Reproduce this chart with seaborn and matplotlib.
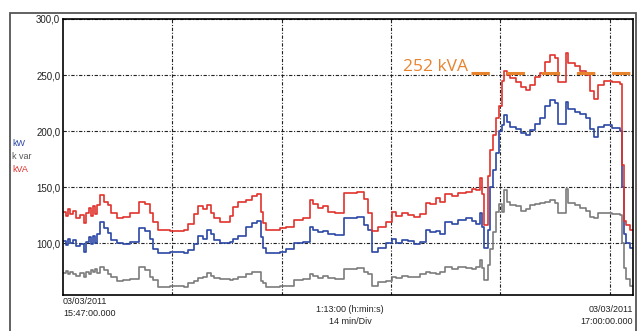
import numpy as np
import pandas as pd
import seaborn as sns
import matplotlib.pyplot as plt
from matplotlib.patches import Rectangle

sns.set_style('white')
plt.rcParams['font.family'] = ['Liberation Sans', 'DejaVu Sans']

# tempo em minutos desde 15:47:00
minutos = [0.0, 0.4, 0.6, 0.9, 1.3, 1.7, 2.2, 2.7, 2.9, 3.3, 3.6, 3.8, 4.1, 4.4,
           4.7, 5.2, 5.8, 6.1, 6.9, 7.7, 8.6, 9.7, 10.5, 11.1, 11.5, 12.2, 13.7,
           15.5, 16.0, 16.8, 17.3, 17.9, 18.4, 19.0, 19.3, 20.1, 21.4, 21.8, 22.4,
           23.4, 24.2, 24.8, 25.4, 25.6, 26.0, 27.8, 28.6, 29.6, 30.7, 31.6, 32.0,
           32.7, 33.3, 33.9, 34.8, 36.0, 37.7, 38.6, 39.1, 39.6, 40.3, 41.4, 42.1,
           42.6, 43.4, 44.2, 45.0, 45.7, 46.5, 47.0, 47.8, 48.3, 48.9, 49.8, 50.6,
           51.6, 52.4, 52.9, 53.4, 53.7, 53.9, 54.4, 54.7, 55.1, 55.5, 55.8, 56.2,
           56.5, 56.9, 57.2, 58.0, 58.7, 59.3, 59.8, 60.5, 61.1, 61.7, 62.4, 63.0,
           63.4, 64.4, 64.7, 65.6, 66.2, 67.0, 67.5, 68.0, 68.5, 69.3, 70.3, 71.3,
           71.6, 71.9, 72.1, 72.6, 73.0]

kva = [128, 124, 130, 126, 129, 122, 125, 118, 127, 131, 124, 133, 126, 134,
       143, 137, 134, 127, 122, 123, 127, 137, 135, 127, 119, 112, 111,
       112, 117, 126, 133, 130, 134, 127, 122, 119, 124, 132, 137,
       138, 142, 144, 128, 118, 112, 113, 114, 121, 122, 138, 135,
       131, 133, 128, 127, 145, 146, 139, 127, 111, 114, 119, 128,
       124, 127, 125, 123, 126, 136, 135, 140, 137, 144, 142, 145,
       146, 148, 147, 158, 144, 116, 160, 183, 196, 212, 222, 245,
       254, 250, 247, 244, 239, 237, 241, 248, 252, 262, 268, 265,
       244, 270, 261, 258, 254, 250, 236, 229, 241, 245, 244, 242,
       170, 120, 116, 112, 112]

kw = [102, 98, 104, 100, 103, 97, 99, 92, 101, 105, 99, 106, 100, 108,
      119, 113, 109, 103, 100, 99, 101, 113, 111, 104, 95, 91, 92,
      91, 94, 99, 106, 104, 112, 108, 103, 100, 101, 104, 106,
      114, 118, 120, 105, 96, 91, 92, 95, 100, 101, 114, 112,
      110, 111, 108, 107, 122, 123, 116, 112, 92, 96, 100, 104,
      100, 103, 102, 99, 101, 112, 110, 111, 108, 119, 117, 121,
      122, 120, 117, 127, 114, 96, 112, 150, 165, 180, 200, 205,
      214, 208, 204, 202, 198, 196, 201, 206, 212, 222, 228, 225,
      206, 226, 220, 217, 215, 212, 202, 195, 204, 205, 203, 200,
      150, 108, 100, 96, 96]

kvar = [73, 75, 72, 74, 72, 71, 73, 70, 74, 72, 76, 74, 77, 73,
        79, 76, 72, 70, 66, 67, 68, 79, 76, 70, 67, 61, 62,
        61, 64, 66, 69, 70, 73, 71, 69, 68, 67, 68, 70,
        72, 74, 74, 66, 64, 61, 62, 62, 67, 68, 72, 71,
        69, 71, 69, 68, 77, 78, 74, 72, 62, 65, 66, 70,
        69, 71, 70, 70, 72, 74, 73, 72, 74, 79, 77, 79,
        78, 77, 79, 85, 78, 67, 80, 95, 110, 128, 135, 128,
        147, 137, 134, 133, 129, 130, 134, 135, 136, 137, 138, 136,
        127, 148, 136, 134, 131, 129, 123, 122, 127, 127, 126, 125,
        100, 78, 68, 62, 62]

cores = {'kW': '#2b47a6', 'k var': '#7b7b7b', 'kVA': '#e0322c'}

df = pd.concat([
    pd.DataFrame({'t': minutos, 'valor': kw, 'serie': 'kW'}),
    pd.DataFrame({'t': minutos, 'valor': kvar, 'serie': 'k var'}),
    pd.DataFrame({'t': minutos, 'valor': kva, 'serie': 'kVA'}),
])

fig = plt.figure(figsize=(6.37, 3.31), dpi=100)
ax = fig.add_axes([63/637, 1 - 295/331, (633 - 63)/637, (295 - 19)/331])

sns.lineplot(data=df, x='t', y='valor', hue='serie', hue_order=['k var', 'kW', 'kVA'],
             palette=cores, estimator=None, sort=False, drawstyle='steps-post',
             linewidth=1.2, legend=False, ax=ax)

ax.set_xlim(0, 73)
ax.set_ylim(53.6, 300)
ax.set_xticks([14, 28, 42, 56, 70])
ax.set_xticklabels([])
ax.set_yticks([100, 150, 200, 250, 300])
ax.set_yticklabels(['100,0', '150,0', '200,0', '250,0', '300,0'], fontsize=7, color='#222222')
ax.tick_params(length=0, pad=2)
ax.set_xlabel('')
ax.set_ylabel('')
ax.grid(True, color='#222222', linestyle=(0, (3, 1.5, 1, 1.5)), linewidth=0.8)
for s in ax.spines.values():
    s.set_color('black')
    s.set_linewidth(1.2)

# limite de 252 kVA
ax.axhline(252, xmin=(471 - 63)/570, xmax=1.01, color='#e8832d', linewidth=2.2,
           linestyle=(0, (6, 5.5)), clip_on=False, zorder=5)
ax.text(51.9, 257.5, '252 kVA', color='#e8832d', fontsize=12.5, ha='right', va='center',
        family=['Open Sans', 'DejaVu Sans'])

# legenda à esquerda
fig.text(12/637, 1 - 143/331, 'kW', color=cores['kW'], fontsize=6.5, va='center')
fig.text(12/637, 1 - 156/331, 'k var', color='#555555', fontsize=6.5, va='center')
fig.text(12/637, 1 - 169/331, 'kVA', color=cores['kVA'], fontsize=6.5, va='center')

# rótulos do eixo de tempo
fig.text(63/637, 1 - 302/331, '03/03/2011', fontsize=6.5, va='center', color='#222222')
fig.text(63/637, 1 - 314/331, '15:47:00.000', fontsize=6.5, va='center', color='#222222')
fig.text(350/637, 1 - 310/331, '1:13:00 (h:min:s)', fontsize=6.5, va='center', ha='center', color='#222222')
fig.text(350/637, 1 - 322/331, '14 min/Div', fontsize=6.5, va='center', ha='center', color='#222222')
fig.text(633/637, 1 - 310/331, '03/03/2011', fontsize=6.5, va='center', ha='right', color='#222222')
fig.text(633/637, 1 - 322/331, '17:00:00.000', fontsize=6.5, va='center', ha='right', color='#222222')

# moldura externa
fig.patches.append(Rectangle((10/637, -0.05), (636 - 10)/637, 1.05 - 13/331,
                             transform=fig.transFigure, fill=False,
                             edgecolor='#555555', linewidth=1.3))

fig.savefig('out.png', dpi=100)
